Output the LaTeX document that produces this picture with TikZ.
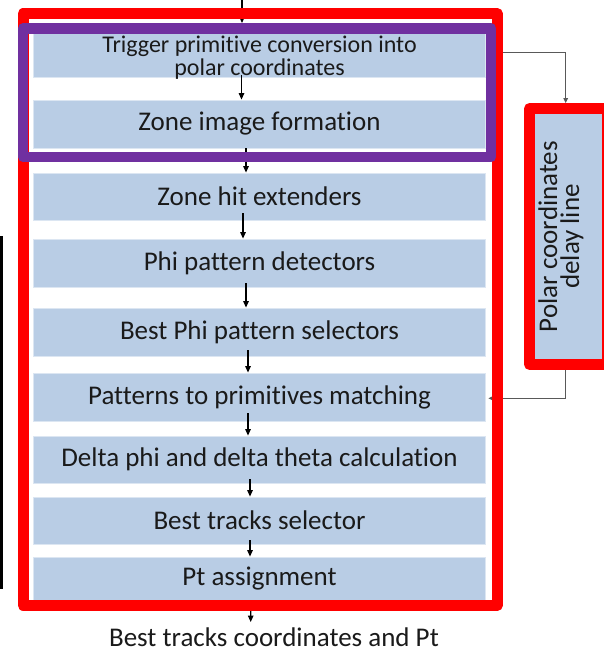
\documentclass[tikz,border=0pt]{standalone}
\usepackage{fontspec}
\setmainfont{Carlito}[Ligatures=NoCommon]
\usetikzlibrary{arrows.meta,backgrounds}
\definecolor{boxblue}{HTML}{B9CDE5}
\definecolor{boxedge}{HTML}{DCE6F2}
\definecolor{pptred}{HTML}{FF0000}
\definecolor{pptpurple}{HTML}{7030A0}
\definecolor{conngray}{HTML}{595959}
\definecolor{txt}{HTML}{1A1A1A}
\begin{document}
\begin{tikzpicture}[x=1pt,y=-1pt,
  stagebox/.style={fill=boxblue, draw=boxedge, line width=0.8pt, minimum width=452.4pt,
    inner sep=0pt, text=txt, font=\fontsize{27}{29}\selectfont},
  flow/.style={-{Triangle[length=6.5pt,width=5.5pt]}, line width=1.2pt, black},
  feed/.style={-{Triangle[length=5pt,width=4.5pt]}, line width=1.4pt, conngray},
  frame/.style={line join=round, inner sep=0pt},
]
\useasboundingbox (0,0) rectangle (604,653);

% frames (main layer)
\node[frame, draw=pptred, line width=11pt, minimum width=474.2pt, minimum height=591.5pt] (main) at (260.1,309.5) {};
\node[frame, draw=pptpurple, line width=10.5pt, minimum width=468pt, minimum height=128.7pt] (zonegrp) at (257.2,92.65) {};
\node[frame, draw=pptred, fill=boxblue, line width=10.5pt, minimum width=77.5pt, minimum height=256.4pt] (delay) at (568.2,236.5) {};
\node[rotate=90, align=center, text=txt, inner sep=0pt, font=\fontsize{27}{22}\selectfont] (delaytext) at (561,236.5) {Polar coordinates\\delay line};

\node[anchor=base, inner sep=0pt, text=txt, font=\fontsize{27}{29}\selectfont] (out) at (274,646) {Best tracks coordinates and Pt};

\fill[black] (0,236) rectangle (2.5,589);

\begin{pgfonlayer}{background}
\node[stagebox, minimum height=45pt, font=\fontsize{24}{21}\selectfont] (b1) at (259.5,54.5)
  {\raisebox{-4.5pt}[\height][\depth]{\begin{tabular}{@{}c@{}}Trigger primitive conversion into\\polar coordinates\end{tabular}}};
\node[stagebox, minimum height=48pt] (b2) at (259.5,124) {Zone image formation};
\node[stagebox, minimum height=47pt] (b3) at (259.5,196.5) {Zone hit extenders};
\node[stagebox, minimum height=48pt] (b4) at (259.5,263) {Phi pattern detectors};
\node[stagebox, minimum height=48pt] (b5) at (259.5,332) {Best Phi pattern selectors};
\node[stagebox, minimum height=48pt] (b6) at (259.5,397) {Patterns to primitives matching};
\node[stagebox, minimum height=47pt] (b7) at (259.5,459.5) {Delta phi and delta theta calculation};
\node[stagebox, minimum height=47pt] (b8) at (259.5,520.5) {Best tracks selector};
\node[stagebox, minimum height=43pt] (b9) at (259.5,578.5) {Pt assignment};

\coordinate (in) at (242,0);
\draw[flow] (in) -- ([xshift=-15.2pt]zonegrp.north);
\draw[flow] ([xshift=-18pt,yshift=3pt]b1.south) -- ([xshift=-18pt]b2.north);
\draw[flow] ([xshift=-13.5pt]b2.south) -- ([xshift=-13.5pt]b3.north);
\draw[flow] ([xshift=-16.5pt,yshift=7pt]b3.south) -- ([xshift=-16.5pt]b4.north);
\draw[flow] ([xshift=-13.5pt,yshift=4pt]b4.south) -- ([xshift=-13.5pt]b5.north);
\draw[flow] ([xshift=-11.5pt,yshift=6pt]b5.south) -- ([xshift=-11.5pt]b6.north);
\draw[flow] ([xshift=-11.5pt,yshift=8pt]b6.south) -- ([xshift=-11.5pt]b7.north);
\draw[flow] ([xshift=-9.5pt,yshift=4pt]b7.south) -- ([xshift=-9.5pt]b8.north);
\draw[flow] ([xshift=-9.5pt,yshift=4pt]b8.south) -- ([xshift=-9.5pt]b9.north);
\draw[flow] ([xshift=-9.4pt]main.south) -- ([xshift=-23.3pt,yshift=5pt]out.north);

\draw[feed] ([yshift=-44.45pt]main.north east) -| ([xshift=-2.5pt]delay.north);
\draw[feed] ([xshift=-2.5pt]delay.south) |- ([xshift=-14.4pt,yshift=-88.8pt]main.east);
\end{pgfonlayer}
\end{tikzpicture}
\end{document}
